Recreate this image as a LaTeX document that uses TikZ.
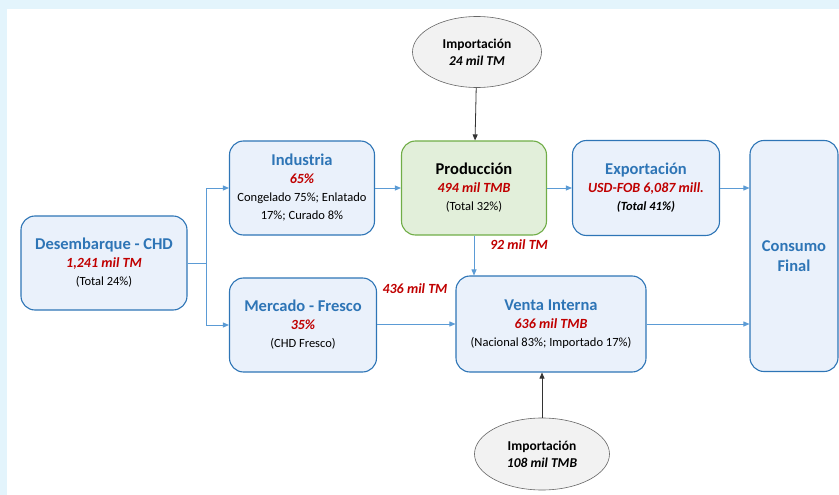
\documentclass[tikz,border=0pt]{standalone}
\usepackage{fontspec}
\setmainfont{Carlito}
\usetikzlibrary{shapes.geometric,arrows.meta}

\definecolor{boxfill}{HTML}{EAF1FB}
\definecolor{boxline}{HTML}{2E75B6}
\definecolor{titleblue}{HTML}{2E75B6}
\definecolor{valred}{HTML}{C00000}
\definecolor{flowline}{HTML}{5B9BD5}
\definecolor{prodfill}{HTML}{E2EFDA}
\definecolor{prodline}{HTML}{70AD47}
\definecolor{ellfill}{HTML}{F2F2F2}
\definecolor{bgband}{HTML}{E3F4FC}

\newcommand{\myTitle}[1]{{\fontsize{16.5}{18}\selectfont\bfseries\color{titleblue}#1}}
\newcommand{\myValue}[1]{{\fontsize{14}{18}\selectfont\bfseries\itshape\color{valred}#1}}

\tikzset{
  stage/.style={draw=boxline, fill=boxfill, line width=1.1pt, rounded corners=14pt,
    align=center, inner sep=2pt, font=\fontsize{12.5}{18}\selectfont},
  prodstage/.style={stage, draw=prodline, fill=prodfill},
  source/.style={ellipse, draw=gray!80!black, fill=ellfill, line width=0.6pt,
    align=center, inner sep=0pt, font=\fontsize{13.5}{17}\selectfont\bfseries},
  flow/.style={draw=flowline, line width=0.9pt, -{Triangle[length=6pt,width=5pt]}},
  feed/.style={draw=black!80, line width=0.8pt, -{Triangle[length=6pt,width=5pt]}},
  qty/.style={font=\fontsize{14}{16}\selectfont\bfseries\itshape, text=valred}
}

\begin{document}
\begin{tikzpicture}[x=1pt, y=-1pt]
	\useasboundingbox (0,0) rectangle (839,495);
	\fill[bgband] (0,0) rectangle (839,9);
	\fill[bgband] (0,0) rectangle (7,495);

	\node[stage, minimum width=166pt, minimum height=94pt] (desem) at (104,263)
		{\myTitle{Desembarque - CHD}\\ \myValue{1,241 mil TM}\\ (Total 24\%)};
	\node[stage, minimum width=145pt, minimum height=94pt] (ind) at (302,188)
		{\myTitle{Industria}\\ \myValue{65\%}\\ Congelado 75\%; Enlatado\\ 17\%; Curado 8\%};
	\node[stage, minimum width=147pt, minimum height=94pt] (merc) at (303,325)
		{\myTitle{Mercado - Fresco}\\ \myValue{35\%}\\ (CHD Fresco)};
	\node[prodstage, minimum width=145pt, minimum height=94pt] (prod) at (474,188)
		{{\fontsize{16.5}{18}\selectfont\bfseries Producción}\\ \myValue{494 mil TMB}\\ (Total 32\%)};
	\node[stage, minimum width=147pt, minimum height=95pt] (expo) at (646,188)
		{\myTitle{Exportación}\\ \myValue{USD-FOB 6,087 mill.}\\ {\bfseries\itshape (Total 41\%)}};
	\node[stage, minimum width=190pt, minimum height=96pt] (venta) at (551,324)
		{\myTitle{Venta Interna}\\ \myValue{636 mil TMB}\\ (Nacional 83\%; Importado 17\%)};
	\node[stage, minimum width=88pt, minimum height=231pt, font=\fontsize{16.5}{20}\selectfont] (cons) at (794,256)
		{\myTitle{Consumo}\\ \myTitle{Final}};

	\node[source, minimum width=129pt, minimum height=71pt] (impA) at (477,52)
		{Importación\\ \itshape 24 mil TM};
	\node[source, minimum width=135pt, minimum height=72pt] (impB) at (542,454)
		{Importación\\ \itshape 108 mil TMB};

	\coordinate (fork) at (206,263);
	\draw[flowline, line width=0.9pt] (desem.east) -- (fork);
	\draw[flow] (fork) |- (ind.west);
	\draw[flow] (fork) |- (merc.west);
	\draw[flow] (ind) -- (prod);
	\draw[flow] (prod.east) -- (expo.west |- prod.east);
	\draw[flow] (expo.east) -- (cons.west |- expo.east);
	\draw[flow] (prod.south) -- (prod.south |- venta.north);
	\draw[flow] (merc.east |- venta.west) -- (venta.west);
	\draw[flow] (venta.east) -- (cons.west |- venta.east);
	\draw[feed] (impA) -- (prod);
	\draw[feed] (impB.north) -- (impB.north |- venta.south);

	\node[qty] (lblA) at (519,245) {92 mil TM};
	\node[qty] (lblB) at (415,289) {436 mil TM};
\end{tikzpicture}
\end{document}
